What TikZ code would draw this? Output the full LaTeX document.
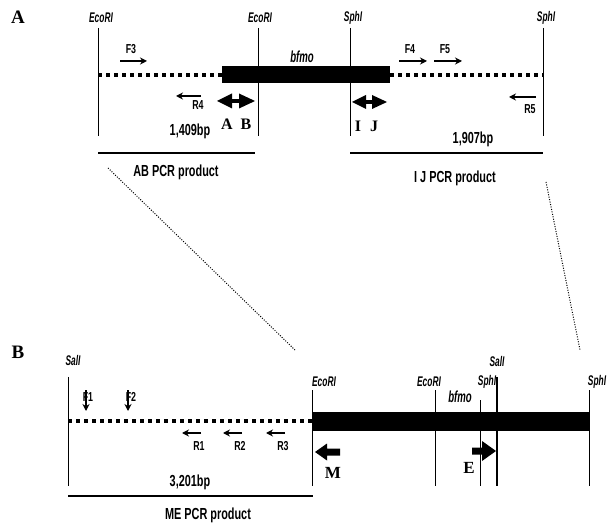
\documentclass[tikz,border=0pt]{standalone}
\usepackage{fontspec}
\setmainfont{Liberation Serif}
\newfontfamily\cond[FakeStretch=0.68]{Liberation Sans}
\newfontfamily\condi[FakeStretch=0.6]{Liberation Sans}
\usetikzlibrary{arrows.meta}
\tikzset{
  site/.style={font=\condi\bfseries\itshape\fontsize{14}{14}\selectfont, inner sep=0},
  gname/.style={font=\condi\bfseries\itshape\fontsize{16}{16}\selectfont, inner sep=0},
  lbl/.style={font=\cond\bfseries\fontsize{13}{13}\selectfont, inner sep=0},
  big/.style={font=\cond\bfseries\fontsize{16}{16}\selectfont, inner sep=0},
  serl/.style={font=\bfseries\fontsize{16}{16}\selectfont, inner sep=0},
  panel/.style={font=\bfseries\fontsize{19}{19}\selectfont, inner sep=0},
  vline/.style={line width=0.8},
  dots/.style={line width=4, dash pattern=on 3.5 off 4.5},
  gene/.style={fill=black, draw=none, inner sep=0},
  primer/.style={-{Stealth[length=7,width=7]}, line width=1.4},
  pcr/.style={line width=2.5},
  zoomline/.style={line width=1, dash pattern=on 1 off 1.5}
}
\begin{document}
\begin{tikzpicture}[x=1pt,y=-1pt]
\useasboundingbox (0,0) rectangle (608,529);
% ---------------- Panel A ----------------
\node[panel] (pA) at (18,17) {A};
\coordinate (a1t) at (98,28);  \coordinate (a1b) at (98,136);
\coordinate (a2t) at (258,28); \coordinate (a2b) at (258,136);
\coordinate (a3t) at (350,28); \coordinate (a3b) at (350,136);
\coordinate (a4t) at (543,28); \coordinate (a4b) at (543,136);
\draw[vline] (a1t) -- (a1b);
\draw[vline] (a2t) -- (a2b);
\draw[vline] (a3t) -- (a3b);
\draw[vline] (a4t) -- (a4b);
\node[site] (sa1) at (101,18) {EcoRI};
\node[site] (sa2) at (260,18) {EcoRI};
\node[site] (sa3) at (353,18) {SphI};
\node[site] (sa4) at (546,18) {SphI};
\node[gene, minimum width=168, minimum height=17, anchor=west] (barA) at (222,75) {};
\node[gname] (bfA) at (302,57) {bfmo};
\coordinate (dA1) at (98,75); \coordinate (dA2) at (543,75);
\draw[dots] (dA1) -- (barA.west);
\draw[dots] (barA.east) -- (dA2);
% primers
\coordinate (f3s) at (120,61); \coordinate (f3e) at (147,61);
\draw[primer] (f3s) -- (f3e);
\node[lbl] (lF3) at (131,49) {F3};
\coordinate (r4s) at (201,96); \coordinate (r4e) at (176,96);
\draw[primer] (r4s) -- (r4e);
\node[lbl] (lR4) at (198,105) {R4};
\coordinate (f4s) at (399,61); \coordinate (f4e) at (427,61);
\draw[primer] (f4s) -- (f4e);
\node[lbl] (lF4) at (410,49) {F4};
\coordinate (f5s) at (434,61); \coordinate (f5e) at (462,61);
\draw[primer] (f5s) -- (f5e);
\node[lbl] (lF5) at (445,49) {F5};
\coordinate (r5s) at (536,97); \coordinate (r5e) at (509,97);
\draw[primer] (r5s) -- (r5e);
\node[lbl] (lR5) at (530,109) {R5};
% A B and I J (filled triangles)
\fill (217,101) -- (232,93.5) -- (232,108.5) -- cycle;
\fill (231,99.3) rectangle (240,102.7);
\fill (255,101) -- (239,93.5) -- (239,108.5) -- cycle;
\node[serl] (lA) at (227,124) {A};
\node[serl] (lB) at (246,124) {B};
\fill (352,102) -- (366,95) -- (366,109) -- cycle;
\fill (365,100.3) rectangle (373,103.7);
\fill (387,102) -- (372,95) -- (372,109) -- cycle;
\node[serl] (lI) at (358,126) {I};
\node[serl] (lJ) at (374,126) {J};
% sizes and products
\node[big] (s1) at (190,131) {1,409bp};
\node[big] (s2) at (473,139) {1,907bp};
\coordinate (ab1) at (98,153); \coordinate (ab2) at (255,153);
\draw[pcr] (ab1) -- (ab2);
\node[big] (pAB) at (176,172) {AB PCR product};
\coordinate (ij1) at (350,153); \coordinate (ij2) at (543,153);
\draw[pcr] (ij1) -- (ij2);
\node[big] (pIJ) at (455,178) {I J PCR product};
% zoom lines
\coordinate (z1a) at (108,168); \coordinate (z1b) at (295,350);
\coordinate (z2a) at (546,182); \coordinate (z2b) at (580,350);
\draw[zoomline] (z1a) -- (z1b);
\draw[zoomline] (z2a) -- (z2b);
% ---------------- Panel B ----------------
\node[panel] (pB) at (18,352) {B};
\coordinate (b1t) at (68,377);  \coordinate (b1b) at (68,486);
\coordinate (b2t) at (312,390); \coordinate (b2b) at (312,486);
\coordinate (b3t) at (435,390); \coordinate (b3b) at (435,486);
\coordinate (b4t) at (480,400); \coordinate (b4b) at (480,486);
\coordinate (b5t) at (497,377); \coordinate (b5b) at (497,486);
\coordinate (b6t) at (589,390); \coordinate (b6b) at (589,486);
\draw[vline] (b1t) -- (b1b);
\draw[vline] (b2t) -- (b2b);
\draw[vline] (b3t) -- (b3b);
\draw[vline] (b4t) -- (b4b);
\draw[vline, line width=1.2] (b5t) -- (b5b);
\draw[vline] (b6t) -- (b6b);
\node[site] (sb1) at (73,360) {SalI};
\node[site] (sb2) at (324,382) {EcoRI};
\node[site] (sb3) at (429,382) {EcoRI};
\node[site] (sb4) at (487,382) {SphI};
\node[site] (sb5) at (497,361) {SalI};
\node[site] (sb6) at (597,382) {SphI};
\node[gene, minimum width=277, minimum height=19, anchor=west] (barB) at (312,421) {};
\node[gname] (bfB) at (460,397) {bfmo};
\coordinate (dB1) at (68,421);
\draw[dots] (dB1) -- (barB.west);
% primers
\coordinate (f1s) at (86,390); \coordinate (f1e) at (86,411);
\draw[primer] (f1s) -- (f1e);
\node[lbl] (lF1) at (88,397) {F1};
\coordinate (f2s) at (128,390); \coordinate (f2e) at (128,411);
\draw[primer] (f2s) -- (f2e);
\node[lbl] (lF2) at (131,397) {F2};
\coordinate (r1s) at (201,433); \coordinate (r1e) at (182,433);
\draw[primer] (r1s) -- (r1e);
\node[lbl] (lR1) at (199,446) {R1};
\coordinate (r2s) at (242,433); \coordinate (r2e) at (223,433);
\draw[primer] (r2s) -- (r2e);
\node[lbl] (lR2) at (240,446) {R2};
\coordinate (r3s) at (285,433); \coordinate (r3e) at (266,433);
\draw[primer] (r3s) -- (r3e);
\node[lbl] (lR3) at (283,446) {R3};
% M and E (block arrows)
\fill (315,452) -- (327,443.5) -- (327,448.5) -- (340,448.5) -- (340,455.5) -- (327,455.5) -- (327,460.5) -- cycle;
\node[serl, font=\bfseries\fontsize{17}{17}\selectfont] (lM) at (333,473) {M};
\fill (496,451) -- (482,441) -- (482,447.5) -- (472,447.5) -- (472,454.5) -- (482,454.5) -- (482,461) -- cycle;
\node[serl, font=\bfseries\fontsize{17}{17}\selectfont] (lE) at (469,468) {E};
\node[big] (s3) at (190,482) {3,201bp};
\coordinate (me1) at (68,496); \coordinate (me2) at (313,496);
\draw[pcr] (me1) -- (me2);
\node[big] (pME) at (208,515) {ME PCR product};
\end{tikzpicture}
\end{document}
